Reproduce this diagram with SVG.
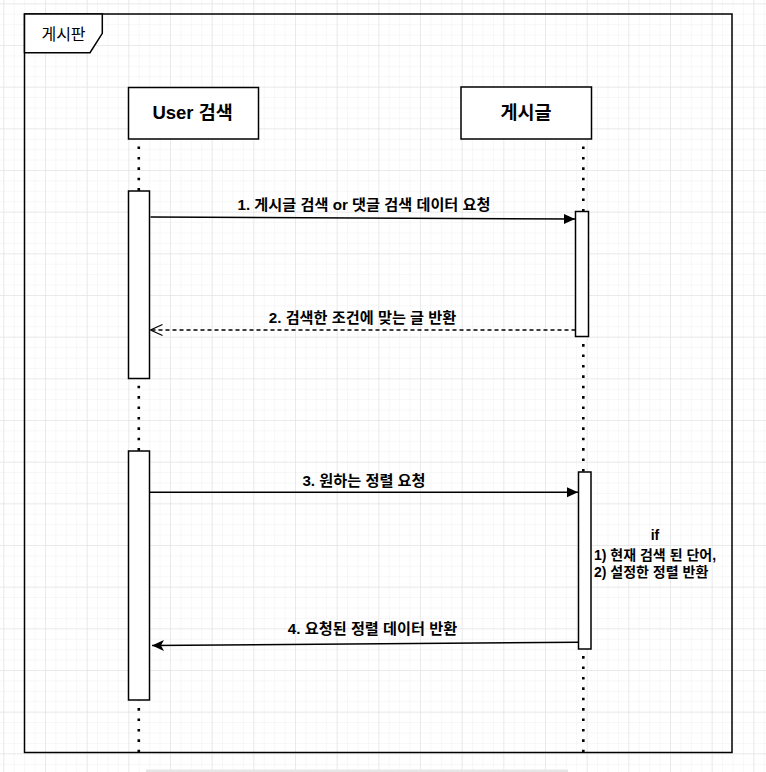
<svg xmlns="http://www.w3.org/2000/svg" width="766" height="772" viewBox="0 0 766 772">
  <style>
    .ln { fill: none; stroke: #000; stroke-width: 1.5; }
    .box { fill: #fff; stroke: #000; stroke-width: 1.5; }
    .life { fill: none; stroke: #000; stroke-width: 2.6; stroke-dasharray: 2.6 7.8; }
    .t { font-family: 'Liberation Sans', 'Noto Sans CJK KR', sans-serif; fill: #000; }
    .lbl { font-size: 15.2px; font-weight: bold; text-anchor: middle; }
    .head { font-size: 18.5px; font-weight: bold; text-anchor: middle; }
    .note { font-size: 14px; font-weight: bold; }
  </style>
  <defs>
    <pattern id="minor" width="10.4167" height="10.4167" patternUnits="userSpaceOnUse" x="3.33" y="3.33">
      <path d="M0,0 H10.4167 M0,0 V10.4167" fill="none" stroke="#f0f0f0" stroke-width="1"/>
    </pattern>
    <pattern id="major" width="41.667" height="41.667" patternUnits="userSpaceOnUse" x="3.33" y="3.33">
      <path d="M0,0 H41.667 M0,0 V41.667" fill="none" stroke="#dedede" stroke-width="1"/>
    </pattern>
    <marker id="block" markerUnits="userSpaceOnUse" markerWidth="14" markerHeight="14" viewBox="0 0 14 14" refX="12" refY="7" orient="auto">
      <path d="M1,2 L12,7 L1,12 Z" fill="#000"/>
    </marker>
    <marker id="open" markerUnits="userSpaceOnUse" markerWidth="16" markerHeight="16" viewBox="0 0 16 16" refX="13" refY="8" orient="auto" overflow="visible">
      <path d="M1,2.5 L13,8 L1,13.5" fill="none" stroke="#000" stroke-width="1.2"/>
    </marker>
    <marker id="classic" markerUnits="userSpaceOnUse" markerWidth="16" markerHeight="16" viewBox="0 0 16 16" refX="13" refY="8" orient="auto">
      <path d="M1,2.5 L13,8 L1,13.5 L4,8 Z" fill="#000"/>
    </marker>
  </defs>

  <rect x="0" y="0" width="766" height="772" fill="#fff"/>
  <rect x="0" y="0" width="766" height="772" fill="url(#minor)"/>
  <rect x="0" y="0" width="766" height="772" fill="url(#major)"/>
  <rect x="146" y="769.5" width="422" height="2.5" fill="#e6e6e6"/>

  <g id="frame">
    <rect x="24.5" y="14" width="707.5" height="738.5" class="ln"/>
    <path d="M24.5,14 L102.3,14 L102.3,33.3 L90,52.7 L24.5,52.7 Z" class="box"/>
    <text x="63.5" y="39.5" class="t" font-size="16" text-anchor="middle">게시판</text>
  </g>

  <g id="lifelines">
    <line x1="138.8" y1="146.5" x2="138.8" y2="756" class="life"/>
    <line x1="583.3" y1="146.5" x2="583.3" y2="756" class="life"/>
  </g>

  <g id="user">
    <rect x="128.5" y="87.5" width="130" height="51.5" class="box"/>
    <text x="192.6" y="119" class="t head">User 검색</text>
  </g>

  <g id="post">
    <rect x="461" y="87" width="130.5" height="52" class="box"/>
    <text x="526" y="119" class="t head">게시글</text>
  </g>

  <g id="activations">
    <rect id="user-act1" x="128.5" y="191" width="21" height="187.5" class="box"/>
    <rect id="user-act2" x="128.5" y="451" width="21" height="249" class="box"/>
    <rect id="post-act1" x="575.5" y="211.5" width="13" height="125" class="box"/>
    <rect id="post-act2" x="578.5" y="472" width="12.5" height="177" class="box"/>
  </g>

  <g id="connectors">
    <line x1="150.5" y1="217" x2="575" y2="219" class="ln" marker-end="url(#block)"/>
    <line x1="575.5" y1="330" x2="150.5" y2="330" class="ln" stroke-dasharray="4 3" marker-end="url(#open)"/>
    <line x1="149.5" y1="492.3" x2="578" y2="492.3" class="ln" marker-end="url(#block)"/>
    <line x1="578.5" y1="642.3" x2="152" y2="645.6" class="ln" marker-end="url(#classic)"/>
  </g>

  <g id="labels">
    <text x="364" y="209.5" class="t lbl" font-size="15.4">1. 게시글 검색 or 댓글 검색 데이터 요청</text>
    <text x="362.5" y="323" class="t lbl">2. 검색한 조건에 맞는 글 반환</text>
    <text x="364" y="486" class="t lbl">3. 원하는 정렬 요청</text>
    <text x="372.5" y="633.5" class="t lbl" font-size="14">4. 요청된 정렬 데이터 반환</text>
  </g>

  <g id="note">
    <text x="655" y="540" class="t note" text-anchor="middle">if</text>
    <text x="594" y="559.5" class="t note">1) 현재 검색 된 단어,</text>
    <text x="594" y="576.5" class="t note">2) 설정한 정렬 반환</text>
  </g>
</svg>
